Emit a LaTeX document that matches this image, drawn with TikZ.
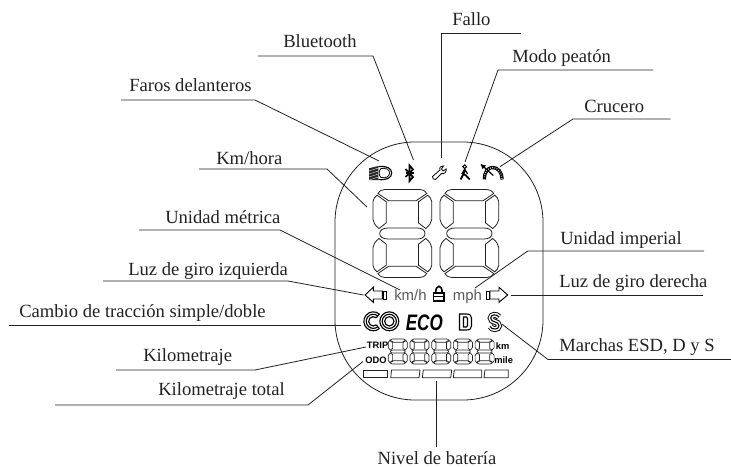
\documentclass[tikz,border=0pt]{standalone}
\usepackage{fontspec}
\setmainfont{Liberation Serif}
\setsansfont{Liberation Sans}
\definecolor{ink}{HTML}{222222}
\definecolor{unitgray}{HTML}{5a5a5a}
\newcommand\halfdigit[1]{%
  \draw[#1] (5,4) .. controls (7,1) and (9,0) .. (12,0) -- (46.7,0) .. controls (49.7,0) and (51.7,1) .. (53.7,4) -- (43,11.3) -- (15.7,11.3) -- cycle;
  \draw[#1] (4,5.7) -- (13.3,12.3) -- (13.3,33.3) -- (6,39) .. controls (2,36) and (0.5,33) .. (0,30) -- (0,12) .. controls (0.3,9.5) and (2,7) .. cycle;
  \draw[#1] (54.7,5.7) -- (45.4,12.3) -- (45.4,33.3) -- (52.7,39) .. controls (56.7,36) and (58.2,33) .. (58.7,30) -- (58.7,12) .. controls (58.4,9.5) and (56.7,7) .. cycle;
}
\newcommand\sevenseg[2]{%
  \begin{scope}[#1]
    \halfdigit{#2}
    \begin{scope}[shift={(0,88)},yscale=-1]\halfdigit{#2}\end{scope}
    \draw[#2] (6.7,44) .. controls (6.7,40.5) and (10,38.5) .. (15,38.5) -- (44,38.5) .. controls (49,38.5) and (52,40.5) .. (52,44) .. controls (52,47.5) and (49,49.5) .. (44,49.5) -- (15,49.5) .. controls (10,49.5) and (6.7,47.5) .. (6.7,44) -- cycle;
  \end{scope}%
}
\tikzset{
  label text/.style={anchor=base west,inner sep=0pt,text=ink,font=\fontsize{13.95}{16}\selectfont},
  leader/.style={draw=ink,line width=.6pt},
  bigseg/.style={draw=ink,line width=.6pt},
  smallseg/.style={draw=ink,line width=.5pt},
  icon/.style={draw=black,line width=.7pt},
  small bold/.style={inner sep=0pt,font=\sffamily\bfseries\fontsize{7}{8}\selectfont,text=black},
  unit text/.style={anchor=base west,inner sep=0pt,text=unitgray,font=\sffamily\fontsize{11.2}{13}\selectfont},
}
\begin{document}
\begin{tikzpicture}[x=.75pt,y=-.75pt]
\useasboundingbox (0,0) rectangle (731,467);
\fill[white] (0,0) rectangle (731,467);
% display outline
\draw[draw=ink,line width=.6pt,rounded corners=60pt] (335,142) rectangle (543,400);
% large digits
\sevenseg{shift={(373,189.5)}}{bigseg}
\sevenseg{shift={(440,189.5)}}{bigseg}
% small digits
\foreach \i in {0,...,4}{\sevenseg{shift={(388.3+\i*21.7,339)},xscale=.324,yscale=.284}{smallseg}}
% battery bars
\draw[bigseg] (363.3,370) -- (387.3,370) -- (387.3,377.7) -- (363.3,377.7) -- cycle;
\draw[bigseg] (391.5,370) -- (420,370) -- (419,377.7) -- (390.7,377.7) -- cycle;
\draw[bigseg] (423.3,370) -- (451.7,370) -- (450.7,377.7) -- (422.3,377.7) -- cycle;
\draw[bigseg] (454.3,370) -- (481.7,370) -- (481.7,377.7) -- (453.3,377.7) -- cycle;
\draw[bigseg] (485,370) -- (508.3,370) -- (508.3,377.7) -- (484,377.7) -- cycle;
% headlight
\fill[black!85] (369,168.3) -- (378.3,166) -- (378.3,180) -- (369,180) -- cycle;
\foreach \h in {169,172,175,178}{\draw[white,line width=.25pt] (369,\h+2) -- (378.3,\h-1);}
\draw[icon,line width=.85pt] (378.5,166.7) .. controls (386,165.5) and (391.7,168) .. (391.7,173) .. controls (391.7,178) and (386,180.5) .. (378.5,179.5);
\draw[icon,line width=.6pt] (381,168.5) .. controls (386,167.5) and (389.5,169.5) .. (389.5,173) .. controls (389.5,176.5) and (386,178.5) .. (381,177.5) .. controls (378.5,175) and (378.5,171) .. (381,168.5) -- cycle;
% bluetooth
\draw[black,line width=1.3pt] (405.5,169) -- (413,177) -- (409.5,181) -- (409.5,165.5) -- (413,169.5) -- (405.5,177);
\draw[black,line width=.8pt] (405.5,173) -- (413.5,173);
% wrench
\draw[icon,line width=.6pt] (432.5,176.5) -- (440,170) .. controls (439,167) and (441,166) .. (443.5,166) -- (441.5,169) -- (443,171) -- (446.2,169) .. controls (446.7,172) and (444,174.5) .. (441.5,173.5) -- (435.5,179.5) .. controls (434.5,180.3) and (431.5,178) .. (432.5,176.5) -- cycle;
% pedestrian
\draw[black,line width=.8pt] (464.7,166.7) circle[radius=1.4pt];
\draw[black,line width=1.4pt] (464.7,169.5) -- (463.5,174) -- (460.5,179.5);
\draw[black,line width=1.3pt] (463.5,174) -- (466,175.5) -- (469.7,179.5);
\draw[black,line width=.9pt] (461.7,174) -- (464.7,169.5) -- (467.7,174);
% cruise gauge
\draw[black,line width=2.5pt] (484.5,179.5) .. controls (484,172) and (488,167.5) .. (492.5,167.5) .. controls (498,167.5) and (502,172) .. (502,179.5);
\draw[white,line width=.9pt,dash pattern=on .5pt off 1.2pt] (484.5,179.5) .. controls (484,172) and (488,167.5) .. (492.5,167.5) .. controls (498,167.5) and (502,172) .. (502,179.5);
\draw[black,line width=.9pt] (481,164.5) -- (493.3,175.5);
\fill[black] (480.7,164.3) -- (486,165.5) -- (482.5,169) -- cycle;
% turn arrows
\draw[icon] (365,295) -- (373.3,287.3) -- (373.3,291) -- (382.3,291) -- (382.3,299) -- (373.3,299) -- (373.3,302.3) -- cycle;
\draw[icon,line width=.6pt] (383.6,291.7) rectangle (386,299);
\draw[icon] (507.7,295) -- (499,287.3) -- (499,291) -- (490,291) -- (490,299) -- (499,299) -- (499,302.3) -- cycle;
\draw[icon,line width=.6pt] (486.7,291.7) rectangle (489,299);
% units
\node[unit text] (kmh) at (394,300) {km/h};
\node[unit text] (mph) at (452.7,300) {mph};
% lock
\draw[black,line width=1.3pt] (433.5,293) rectangle (444.3,301.3);
\draw[black,line width=1pt] (433.5,296.8) -- (444.3,296.8);
\draw[black,line width=1.2pt] (435.7,293) .. controls (435.5,284) and (442.5,284) .. (442.1,293);
% CO
\foreach \r in {7.1,5.3,3.5}{
  \draw[black,line width=.85pt] (373.3,321.3) ++(50:\r pt) arc[start angle=50,end angle=310,radius=\r pt];
  \draw[black,line width=.85pt] (389.3,321.3) circle[radius=\r pt];
}
\draw[black,line width=.85pt] (373.3,321.3) ++(50:3.5pt) -- ++(50:3.6pt);
\draw[black,line width=.85pt] (373.3,321.3) ++(310:3.5pt) -- ++(310:3.6pt);
% ECO
\node[anchor=base,inner sep=0pt,xscale=.76,text=black,font=\sffamily\bfseries\itshape\fontsize{16.8}{18}\selectfont] (eco) at (424.3,330) {ECO};
% D
\draw[icon,line width=.85pt] (459.5,314) -- (466,314) .. controls (470,314) and (471.5,315.5) .. (471.5,318) -- (471.5,326) .. controls (471.5,328.5) and (470,330) .. (466,330) -- (459.5,330) -- cycle;
\draw[icon,line width=.85pt] (463.5,317) -- (466.5,317) -- (467.5,318.5) -- (467.5,325.5) -- (466.5,327) -- (463.5,327) -- cycle;
% S
\draw[black,line width=4.4pt] (499,317) .. controls (497,314) and (491,314) .. (490.7,318) .. controls (490.3,323) and (499.3,320.5) .. (499,326) .. controls (498.7,330) and (491.7,330) .. (490.2,326.5);
\draw[white,line width=3pt] (499,317) .. controls (497,314) and (491,314) .. (490.7,318) .. controls (490.3,323) and (499.3,320.5) .. (499,326) .. controls (498.7,330) and (491.7,330) .. (490.2,326.5);
\draw[black,line width=.8pt] (499,317) .. controls (497,314) and (491,314) .. (490.7,318) .. controls (490.3,323) and (499.3,320.5) .. (499,326) .. controls (498.7,330) and (491.7,330) .. (490.2,326.5);
% small bold labels
\node[small bold,anchor=west] (trip) at (366.7,345.7) {TRIP};
\node[small bold,anchor=west] (odo) at (365,360) {ODO};
\node[small bold,anchor=west] (km) at (495.7,346) {km};
\node[small bold,anchor=west] (mile) at (494,360) {mile};
% labels
\node[label text] (lfallo) at (452,26) {Fallo};
\node[label text] (lblue) at (283,48) {Bluetooth};
\node[label text] (lmodo) at (512,63) {Modo peatón};
\node[label text] (lfaros) at (129,91) {Faros delanteros};
\node[label text] (lcruc) at (584,112) {Crucero};
\node[label text] (lkmh) at (216,164) {Km/hora};
\node[label text] (lmet) at (165,223) {Unidad métrica};
\node[label text] (limp) at (560,244) {Unidad imperial};
\node[label text] (lizq) at (128,275) {Luz de giro izquierda};
\node[label text] (lder) at (559,287) {Luz de giro derecha};
\node[label text] (lcam) at (19,317) {Cambio de tracción simple/doble};
\node[label text] (lmar) at (559,351) {Marchas ESD, D y S};
\node[label text] (lkil) at (143,361) {Kilometraje};
\node[label text] (ltot) at (158,395) {Kilometraje total};
\node[label text,anchor=base] (lniv) at (437,464) {Nivel de batería};
% leader points
\coordinate (fa) at (521,33); \coordinate (fb) at (441.3,33); \coordinate (fc) at (441.3,158);
\coordinate (ba) at (258,56); \coordinate (bb) at (373,56); \coordinate (bc) at (413.5,160);
\coordinate (ma) at (653,70); \coordinate (mb) at (498,70); \coordinate (mc) at (465,162);
\coordinate (ha) at (121,100); \coordinate (hb) at (255,100); \coordinate (hc) at (379,161);
\coordinate (ca) at (670.7,119); \coordinate (cb) at (573,119); \coordinate (cc) at (500,166.7);
\coordinate (ka) at (199,169); \coordinate (kb) at (327,169); \coordinate (kc) at (367,207);
\coordinate (ua) at (139,230); \coordinate (ub) at (280,230); \coordinate (uc) at (400,290);
\coordinate (ia) at (704,251); \coordinate (ib) at (527.7,251); \coordinate (ic) at (475,288);
\coordinate (la) at (103,281); \coordinate (lb) at (288,281); \coordinate (lc) at (363.5,295);
\coordinate (ra) at (703,295); \coordinate (rc) at (510.7,295);
\coordinate (sa) at (9,325); \coordinate (sc) at (361,325);
\coordinate (ga) at (731,359.5); \coordinate (gb) at (548,359.5); \coordinate (gc) at (501.7,324);
\coordinate (ta) at (116,370); \coordinate (tb) at (255,370); \coordinate (tc) at (366,347);
\coordinate (oa) at (55,405); \coordinate (ob) at (308,405); \coordinate (oc) at (363,361.5);
\coordinate (na) at (436,447); \coordinate (nc) at (436,381);
\draw[leader] (fa) -- (fb) -- (fc);
\draw[leader] (ba) -- (bb) -- (bc);
\draw[leader] (ma) -- (mb) -- (mc);
\draw[leader] (ha) -- (hb) -- (hc);
\draw[leader] (ca) -- (cb) -- (cc);
\draw[leader] (ka) -- (kb) -- (kc);
\draw[leader] (ua) -- (ub) -- (uc);
\draw[leader] (ia) -- (ib) -- (ic);
\draw[leader] (la) -- (lb) -- (lc);
\draw[leader] (ra) -- (rc);
\draw[leader] (sa) -- (sc);
\draw[leader] (ga) -- (gb) -- (gc);
\draw[leader] (ta) -- (tb) -- (tc);
\draw[leader] (oa) -- (ob) -- (oc);
\draw[leader] (na) -- (nc);
\end{tikzpicture}
\end{document}
